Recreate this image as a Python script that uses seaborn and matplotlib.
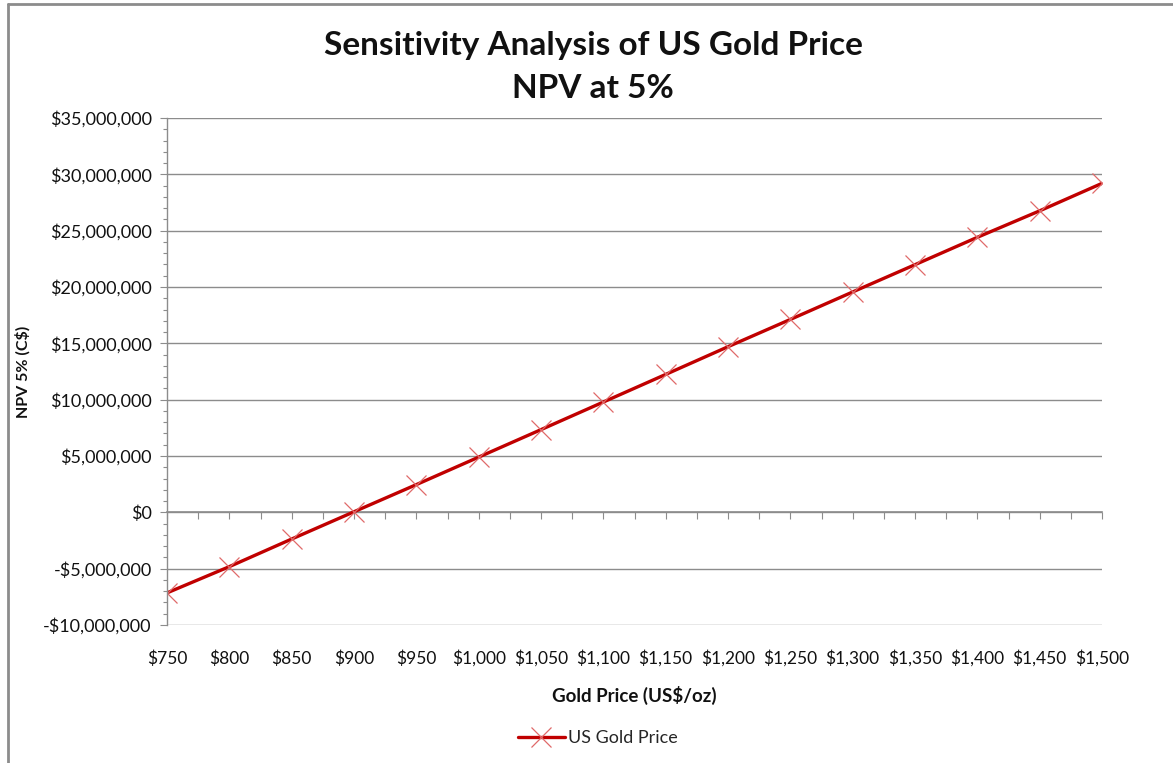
import matplotlib
matplotlib.use("Agg")
import matplotlib.pyplot as plt
import matplotlib.ticker as mticker
import seaborn as sns
import pandas as pd
from matplotlib.lines import Line2D

gold_price = [750, 800, 850, 900, 950, 1000, 1050, 1100, 1150, 1200, 1250, 1300, 1350, 1400, 1450, 1500]
npv_5pct = [-7150000, -4820000, -2370000, 50000, 2460000, 4900000, 7340000, 9790000,
            12240000, 14700000, 17120000, 19560000, 21980000, 24410000, 26760000, 29200000]
series_name = "US Gold Price"
title_lines = ["Sensitivity Analysis of US Gold Price", "NPV at 5%"]
x_label = "Gold Price (US$/oz)"
y_label = "NPV 5% (C$)"

df = pd.DataFrame({"price": gold_price, "npv": npv_5pct, "series": series_name})

sns.set_theme(style="white")
plt.rcParams["font.family"] = ["Lato", "DejaVu Sans"]

fig = plt.figure(figsize=(11.73, 7.63), dpi=100)
ax = fig.add_axes([167/1173, 1-625/763, (1102-167)/1173, (625-118)/763])

line_color = "#C00000"
marker_color = "#E06A6A"
grid_color = "#8C8C8C"

sns.lineplot(data=df, x="price", y="npv", ax=ax, color=line_color, linewidth=2.4,
             marker="x", markersize=15, markeredgecolor=marker_color,
             markeredgewidth=0.9, legend=False)

ymin, ymax = -10000000, 35000000
ax.set_xlim(750, 1500)
ax.set_ylim(ymin, ymax)

ax.yaxis.set_major_locator(mticker.MultipleLocator(5000000))
ax.yaxis.set_minor_locator(mticker.MultipleLocator(1000000))
ax.yaxis.set_major_formatter(mticker.FuncFormatter(
    lambda v, p: ("-$" if v < 0 else "$") + f"{abs(int(round(v))):,}"))
ax.xaxis.set_major_locator(mticker.FixedLocator(gold_price))
ax.xaxis.set_major_formatter(mticker.FuncFormatter(lambda v, p: f"${int(v):,}"))

ax.grid(axis="y", which="major", color=grid_color, linewidth=1.0)
ax.set_axisbelow(True)
for s in ["top", "right", "bottom"]:
    ax.spines[s].set_visible(False)
ax.spines["left"].set_color(grid_color)
ax.spines["left"].set_linewidth(1.0)

ax.tick_params(axis="y", which="major", direction="out", length=5, width=0.8,
               color=grid_color, left=True, labelsize=13, labelcolor="#111111", pad=6)
ax.tick_params(axis="y", which="minor", direction="out", length=3, width=0.8,
               color=grid_color, left=True)
ax.tick_params(axis="x", which="major", length=0, labelsize=12.5, labelcolor="#111111", pad=18)

# x axis line crossing at zero with ticks
zero_frac = (0 - ymin) / (ymax - ymin)
sec = ax.secondary_xaxis(zero_frac)
sec.spines["bottom"].set_color(grid_color)
sec.spines["bottom"].set_linewidth(1.2)
sec.xaxis.set_major_locator(mticker.MultipleLocator(25))
sec.tick_params(axis="x", direction="out", length=5, width=0.8, color=grid_color,
                labelbottom=False)

ax.set_xlabel(x_label, fontsize=13.5, fontweight="bold", labelpad=14, color="#111111")
ax.set_ylabel(y_label, fontsize=11.5, fontweight="bold", color="#111111")
ax.yaxis.set_label_coords((31 - 167) / (1102 - 167), 0.5)

fig.text(593/1173, 1-45/763, title_lines[0], ha="center", va="center",
         fontsize=24, fontweight="bold", color="#111111")
fig.text(593/1173, 1-89/763, title_lines[1], ha="center", va="center",
         fontsize=24, fontweight="bold", color="#111111")

handle = Line2D([], [], color=line_color, linewidth=2.4, marker="x", markersize=15,
                markeredgecolor=marker_color, markeredgewidth=0.9)
fig.legend([handle], [series_name], loc="center", bbox_to_anchor=(598/1173, 1-738/763),
           frameon=False, fontsize=13, handlelength=2.6, handletextpad=0.2)

# outer chart border (left & top)
fig.add_artist(Line2D([8/1173, 8/1173], [0, 1-4/763], color="#8C8C8C", linewidth=2,
                      transform=fig.transFigure))
fig.add_artist(Line2D([8/1173, 1], [1-4/763, 1-4/763], color="#8C8C8C", linewidth=2,
                      transform=fig.transFigure))

fig.savefig("out.png", dpi=100)
